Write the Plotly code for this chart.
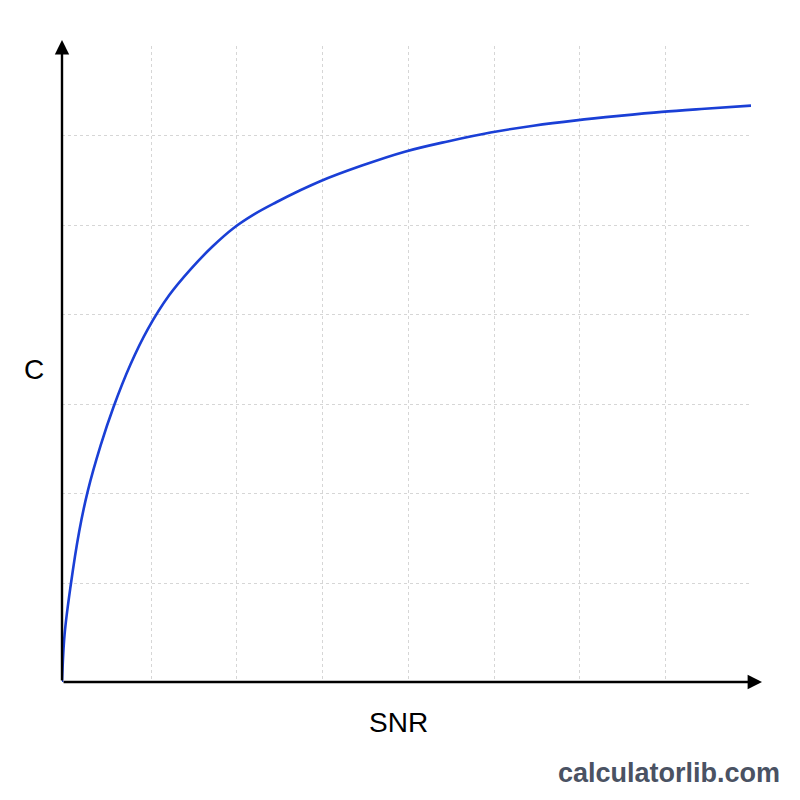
import plotly.graph_objects as go

# Curve (SNR in grid units, C in grid units)
snr = [0, 0.03, 0.1, 0.2, 0.3, 0.45, 0.6, 0.8, 1.0, 1.25, 1.5, 1.75, 2.0, 2.25,
       2.5, 2.75, 3.0, 3.5, 4.0, 4.5, 5.0, 5.5, 6.0, 6.5, 7.0, 7.5, 8.04]
cap = [0, 0.53, 1.07, 1.68, 2.13, 2.64, 3.07, 3.55, 3.94, 4.32, 4.61, 4.86, 5.07, 5.23,
       5.36, 5.48, 5.59, 5.77, 5.925, 6.04, 6.14, 6.215, 6.275, 6.325, 6.37, 6.405, 6.44]

# Grid positions (offset slightly from the axis origin, as in the reference)
x_grid = [1.041, 2.041, 3.041, 4.041, 5.041, 6.041, 7.041]
y_grid = [1.106, 2.106, 3.106, 4.106, 5.106, 6.106]

x_title = "SNR"
y_title = "C"
watermark = "calculatorlib.com"

FONT = "Liberation Sans, Arial, Helvetica, sans-serif"

fig = go.Figure()
fig.add_trace(go.Scatter(
    x=snr, y=cap, mode="lines",
    line=dict(color="#1a3fd6", width=2.6, shape="spline", smoothing=1.0),
    hoverinfo="skip", showlegend=False, cliponaxis=False,
))

fig.update_layout(
    width=800, height=800,
    margin=dict(l=62, r=49, t=46, b=118),
    paper_bgcolor="white", plot_bgcolor="white",
    xaxis=dict(range=[0, 8.04], tickvals=x_grid, showticklabels=False, ticks="",
               showgrid=True, gridcolor="#d6d6d6", gridwidth=1, griddash="3px,3px",
               zeroline=False, showline=False, fixedrange=True),
    yaxis=dict(range=[0, 7.106], tickvals=y_grid, showticklabels=False, ticks="",
               showgrid=True, gridcolor="#d6d6d6", gridwidth=1, griddash="3px,3px",
               zeroline=False, showline=False, fixedrange=True),
    font=dict(family=FONT, color="black"),
)

annotations = [
    # x axis arrow
    dict(x=1.016, y=0, xref="paper", yref="paper", ax=-700, ay=0,
         showarrow=True, arrowhead=2, arrowsize=1.2, arrowwidth=2.4,
         arrowcolor="black", text=""),
    # y axis arrow
    dict(x=0, y=1.0094, xref="paper", yref="paper", ax=0, ay=642,
         showarrow=True, arrowhead=2, arrowsize=1.2, arrowwidth=2.4,
         arrowcolor="black", text=""),
    dict(x=-0.0406, y=0.492, xref="paper", yref="paper", text=y_title,
         showarrow=False, font=dict(size=28, family=FONT, color="black"),
         xanchor="center", yanchor="middle"),
    dict(x=0.489, y=-0.0629, xref="paper", yref="paper", text=x_title,
         showarrow=False, font=dict(size=28, family=FONT, color="black"),
         xanchor="center", yanchor="middle"),
    dict(x=1.045, y=-0.143, xref="paper", yref="paper", text="<b>" + watermark + "</b>",
         showarrow=False, font=dict(size=27, family=FONT, color="#4a5263"),
         xanchor="right", yanchor="middle"),
]
fig.update_layout(annotations=annotations)

fig.write_html("out.html")
